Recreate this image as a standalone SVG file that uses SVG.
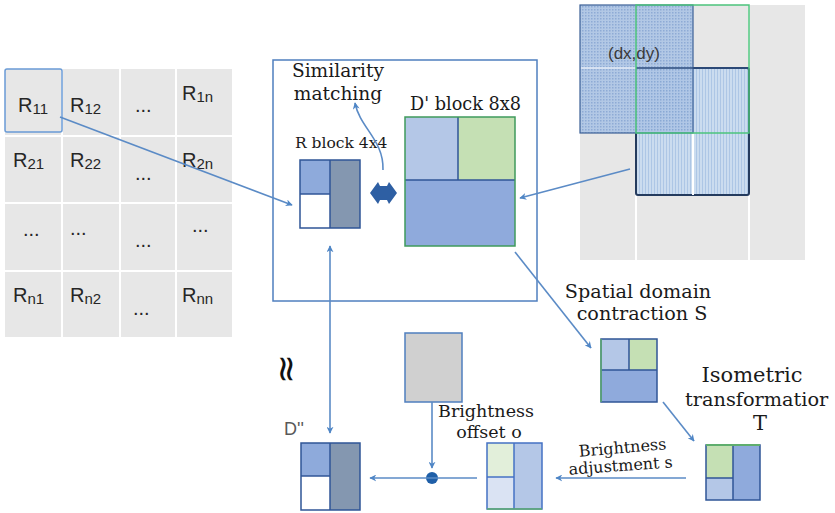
<svg xmlns="http://www.w3.org/2000/svg" width="835" height="513" viewBox="0 0 835 513">
<style>
.cell{font-family:"Liberation Sans",Arial,sans-serif;font-size:20px;fill:#262626}
.sub{font-size:15px}
.ser{font-family:"DejaVu Serif","Liberation Serif",serif;fill:#1a1a1a}
.conn{stroke:#5b8bc6;stroke-width:1.6;fill:none}
.blk{stroke:#2f5597;stroke-width:1.5}
</style>
<defs>
<marker id="ah" viewBox="0 0 10 10" refX="9" refY="5" markerWidth="7" markerHeight="7" orient="auto-start-reverse" markerUnits="userSpaceOnUse">
<path d="M0,0 L10,5 L0,10 L3,5 Z" fill="#4f86c6"/>
</marker>
<pattern id="dots" width="3" height="3" patternUnits="userSpaceOnUse">
<rect width="3" height="3" fill="#aec5e5"/>
<rect x="0" y="0" width="1.5" height="1.5" fill="#86a6d3"/>
</pattern>
<pattern id="vlines" width="3" height="3" patternUnits="userSpaceOnUse">
<rect width="3" height="3" fill="#cbdcef"/>
<rect x="0" y="0" width="1" height="3" fill="#adc6e5"/>
</pattern>
</defs>

<g id="grid-left">
<rect x="5" y="69" width="227" height="268" fill="#e7e7e7"/>
<g stroke="#ffffff" stroke-width="2">
<line x1="62" y1="69" x2="62" y2="337"/>
<line x1="120" y1="69" x2="120" y2="337"/>
<line x1="176" y1="69" x2="176" y2="337"/>
<line x1="5" y1="136" x2="232" y2="136"/>
<line x1="5" y1="203" x2="232" y2="203"/>
<line x1="5" y1="271" x2="232" y2="271"/>
</g>
<rect x="5" y="69" width="57" height="63" rx="2" fill="none" stroke="#6a9bd6" stroke-width="1.5"/>
<text class="cell" x="18" y="112">R<tspan class="sub" dy="2">11</tspan></text>
<text class="cell" x="70" y="112">R<tspan class="sub" dy="2">12</tspan></text>
<text class="cell" x="135" y="112">...</text>
<text class="cell" x="182" y="100">R<tspan class="sub" dy="2">1n</tspan></text>
<text class="cell" x="13" y="167">R<tspan class="sub" dy="2">21</tspan></text>
<text class="cell" x="70" y="167">R<tspan class="sub" dy="2">22</tspan></text>
<text class="cell" x="135" y="180">...</text>
<text class="cell" x="182" y="167">R<tspan class="sub" dy="2">2n</tspan></text>
<text class="cell" x="23" y="236">...</text>
<text class="cell" x="70" y="235">...</text>
<text class="cell" x="135" y="247">...</text>
<text class="cell" x="192" y="232">...</text>
<text class="cell" x="13" y="302">R<tspan class="sub" dy="2">n1</tspan></text>
<text class="cell" x="70" y="302">R<tspan class="sub" dy="2">n2</tspan></text>
<text class="cell" x="133" y="315">...</text>
<text class="cell" x="182" y="302">R<tspan class="sub" dy="2">nn</tspan></text>
</g>

<g id="image-right">
<rect x="580" y="5" width="225" height="255" fill="#e7e7e7"/>
<g stroke="#ffffff" stroke-width="2">
<line x1="636" y1="5" x2="636" y2="260"/>
<line x1="749" y1="5" x2="749" y2="260"/>
</g>
<rect x="636" y="68" width="113" height="127" rx="2" fill="url(#vlines)" stroke="#243b5e" stroke-width="2"/>
<line x1="693" y1="133" x2="693" y2="195" stroke="#ffffff" stroke-width="2"/>
<rect x="580" y="5" width="113" height="128" fill="url(#dots)" fill-opacity="0.92" stroke="#3b5f96" stroke-width="1.2"/>
<line x1="581" y1="68" x2="636" y2="68" stroke="#e3ebf6" stroke-width="1.5"/>
<line x1="636" y1="68" x2="749" y2="68" stroke="#2f4f80" stroke-width="1.5"/>
<rect x="636" y="5" width="113" height="128" fill="none" stroke="#4cc47c" stroke-width="1.5"/>
<text x="608" y="59" font-family="Liberation Sans,Arial,sans-serif" font-size="17" fill="#3a3a3a">(dx,dy)</text>
</g>

<g id="main-box">
<rect x="273" y="60" width="264" height="241" fill="none" stroke="#4f7fbf" stroke-width="1.5"/>
</g>

<g id="label-similarity">
<text class="ser" x="338" y="77" text-anchor="middle" style="font-size:18.6px">Similarity</text>
<text class="ser" x="338" y="100" text-anchor="middle" style="font-size:18.6px">matching</text>
</g>

<g id="r-block">
<text class="ser" x="295" y="148" style="font-size:15.5px">R block 4x4</text>
<rect x="300" y="160" width="30" height="34" fill="#8eaadb"/>
<rect x="300" y="194" width="30" height="34" fill="#ffffff"/>
<rect x="330" y="160" width="30" height="68" fill="#8497b0"/>
<rect x="300" y="160" width="60" height="68" fill="none" class="blk"/>
<line x1="330" y1="160" x2="330" y2="228" class="blk"/>
<line x1="300" y1="194" x2="330" y2="194" class="blk"/>
</g>

<g id="match-symbol">
<path d="M370,193 L378,182 L380,186 L387,186 L389,182 L397,193 L389,204 L387,200 L380,200 L378,204 Z" fill="#2e5fa3"/>
</g>

<g id="d-block">
<text class="ser" x="410" y="110" style="font-size:17.7px">D'  block 8x8</text>
<rect x="405" y="117" width="53" height="63" fill="#b4c7e7"/>
<rect x="458" y="117" width="57" height="63" fill="#c5e0b4"/>
<rect x="405" y="180" width="110" height="66" fill="#8faadc"/>
<line x1="458" y1="117" x2="458" y2="180" class="blk"/>
<line x1="405" y1="180" x2="515" y2="180" class="blk" stroke-width="2"/>
<rect x="405" y="117" width="110" height="129" fill="none" stroke="#3f9a5c" stroke-width="1.5"/>
</g>

<g id="contraction-block">
<text class="ser" x="638" y="298" text-anchor="middle" style="font-size:19.2px">Spatial domain</text>
<text class="ser" x="642" y="320" text-anchor="middle" style="font-size:19.2px">contraction S</text>
<rect x="601" y="339" width="28" height="31" fill="#b4c7e7"/>
<rect x="629" y="339" width="28" height="31" fill="#c5e0b4"/>
<rect x="601" y="370" width="56" height="32" fill="#8faadc"/>
<line x1="629" y1="339" x2="629" y2="370" class="blk"/>
<line x1="601" y1="370" x2="657" y2="370" class="blk"/>
<rect x="601" y="339" width="56" height="63" fill="none" class="blk"/>
<line x1="601" y1="339" x2="601" y2="402" stroke="#5fae6e" stroke-width="1.5"/>
</g>

<g id="isometric-block">
<text class="ser" x="752" y="382" text-anchor="middle" style="font-size:21px">Isometric</text>
<text class="ser" x="685" y="406" style="font-size:19.3px">transformatior</text>
<text class="ser" x="760" y="430" text-anchor="middle" style="font-size:21px">T</text>
<rect x="706" y="445" width="27" height="33" fill="#c5e0b4"/>
<rect x="706" y="478" width="27" height="22" fill="#b4c7e7"/>
<rect x="733" y="445" width="27" height="55" fill="#8faadc"/>
<line x1="733" y1="445" x2="733" y2="500" class="blk"/>
<line x1="706" y1="478" x2="733" y2="478" class="blk"/>
<rect x="706" y="445" width="54" height="55" fill="none" class="blk"/>
<line x1="706" y1="445" x2="760" y2="445" stroke="#5fae6e" stroke-width="2"/>
</g>

<g id="adjusted-block">
<text class="ser" x="623" y="453" text-anchor="middle" style="font-size:16px" transform="rotate(-5 623 453)">Brightness</text>
<text class="ser" x="621" y="471" text-anchor="middle" style="font-size:16px" transform="rotate(-4 621 471)">adjustment s</text>
<rect x="487" y="443" width="27" height="34" fill="#e2efda"/>
<rect x="487" y="477" width="27" height="32" fill="#dae3f3"/>
<rect x="514" y="443" width="28" height="66" fill="#b4c7e7"/>
<line x1="514" y1="443" x2="514" y2="509" stroke="#4472c4" stroke-width="1.5"/>
<line x1="487" y1="477" x2="514" y2="477" stroke="#4472c4" stroke-width="1.5"/>
<rect x="487" y="443" width="55" height="66" fill="none" stroke="#4472c4" stroke-width="1.5"/>
<line x1="487" y1="509" x2="542" y2="509" stroke="#5fae6e" stroke-width="1.5"/>
</g>

<g id="offset-block">
<rect x="405" y="333" width="57" height="69" fill="#d0d0d0" stroke="#4f7fbf" stroke-width="1.5"/>
<text class="ser" x="486" y="417" text-anchor="middle" style="font-size:17.5px">Brightness</text>
<text class="ser" x="489" y="438" text-anchor="middle" style="font-size:17.5px">offset o</text>
</g>

<g id="sum-node">
<circle cx="432" cy="478" r="6" fill="#1f5fa8"/>
</g>

<g id="d2-block">
<text x="284" y="435" font-family="Liberation Sans,Arial,sans-serif" font-size="18" fill="#595959">D''</text>
<text x="286" y="380" font-family="DejaVu Sans,sans-serif" font-size="36" fill="#111" text-anchor="middle" transform="rotate(90 286 369)">≈</text>
<rect x="301" y="443" width="29" height="33" fill="#8eaadb"/>
<rect x="301" y="476" width="29" height="34" fill="#ffffff"/>
<rect x="330" y="443" width="30" height="67" fill="#8497b0"/>
<rect x="301" y="443" width="59" height="67" fill="none" class="blk"/>
<line x1="330" y1="443" x2="330" y2="510" class="blk"/>
<line x1="301" y1="476" x2="330" y2="476" class="blk"/>
</g>

<g id="connectors">
<line class="conn" x1="60" y1="117" x2="292" y2="205" marker-end="url(#ah)"/>
<line class="conn" x1="630" y1="169" x2="520" y2="198" marker-end="url(#ah)"/>
<path class="conn" d="M383,170 C384,140 360,128 355,103" marker-end="url(#ah)"/>
<line class="conn" x1="330" y1="246" x2="330" y2="433" marker-start="url(#ah)" marker-end="url(#ah)"/>
<line class="conn" x1="515" y1="252" x2="591" y2="348" marker-end="url(#ah)"/>
<line class="conn" x1="663" y1="402" x2="694" y2="441" marker-end="url(#ah)"/>
<line class="conn" x1="686" y1="478" x2="556" y2="478" marker-end="url(#ah)"/>
<line class="conn" x1="432" y1="402" x2="432" y2="468" marker-end="url(#ah)"/>
<line class="conn" x1="477" y1="478" x2="370" y2="478" marker-end="url(#ah)"/>
</g>
</svg>
